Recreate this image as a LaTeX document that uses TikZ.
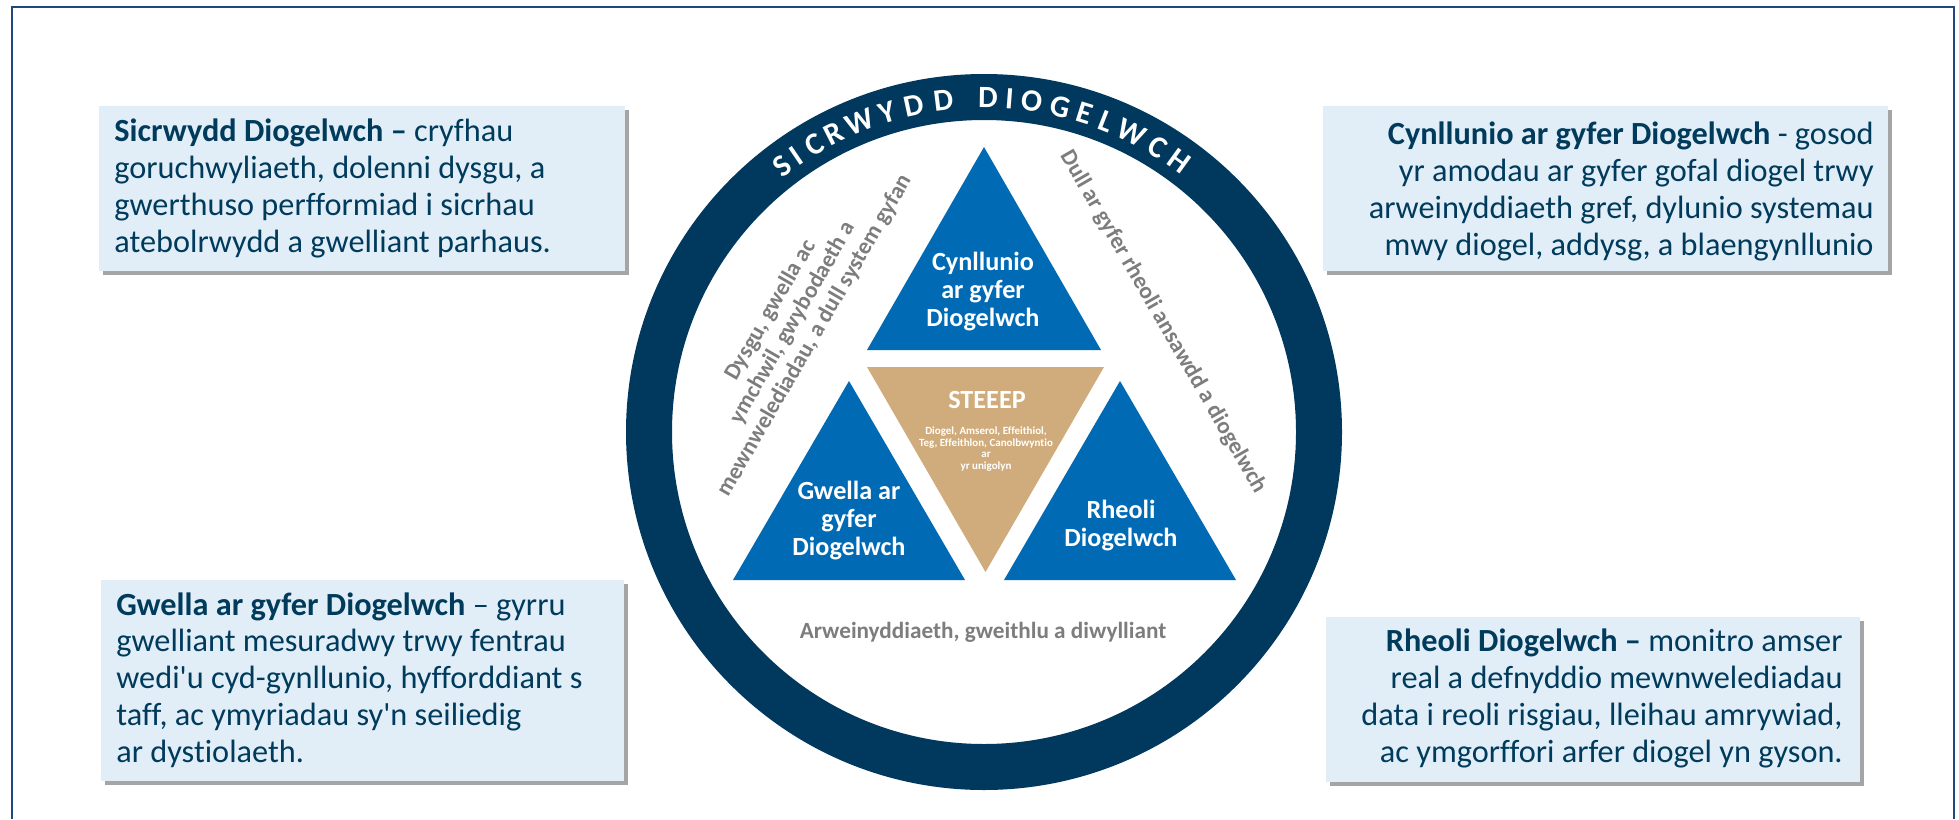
\documentclass[tikz,border=0pt]{standalone}
\usepackage{fontspec}
\setmainfont{Carlito}[Ligatures={CommonOff,TeXOff}]
\usetikzlibrary{calc}
\definecolor{navy}{RGB}{0,56,94}
\definecolor{triblue}{RGB}{0,106,180}
\definecolor{tanfill}{RGB}{208,172,124}
\definecolor{boxfill}{RGB}{225,238,248}
\definecolor{boxtext}{RGB}{0,59,92}
\definecolor{labgray}{RGB}{125,125,125}
\definecolor{framecol}{RGB}{31,73,125}
\definecolor{shadowcol}{RGB}{165,165,165}
\tikzset{
  descbox/.style={fill=boxfill},
  shadowbox/.style={fill=shadowcol},
  desctext/.style={text=boxtext, font=\fontsize{16.15}{18.35}\selectfont, inner sep=0pt},
  tritext/.style={text=white, font=\bfseries\fontsize{13.1}{14}\selectfont, align=center, inner sep=0pt},
  smalltext/.style={text=white, font=\bfseries\fontsize{5.5}{5.85}\selectfont, align=center, inner sep=0pt},
  graytext/.style={text=labgray, font=\bfseries\fontsize{11.6}{12.75}\selectfont, align=center, inner sep=0pt},
  ringletter/.style={text=white, font=\bfseries\fontsize{15.5}{15.5}\selectfont, inner sep=0pt, anchor=center}
}
\begin{document}
\begin{tikzpicture}[x=0.5pt,y=-0.5pt]
\fill[white] (0,0) rectangle (1959,819);
\useasboundingbox (0,0) rectangle (1959,819);
% frame
\draw[framecol, line width=1pt] (12,819) -- (12,7) -- (1954,7) -- (1954,819);
% description boxes
\fill[shadowbox] (103,110) rectangle (629,275);
\fill[descbox] (99,106) rectangle (625,271);
\fill[shadowbox] (1327,110) rectangle (1892,275);
\fill[descbox] (1323,106) rectangle (1888,271);
\fill[shadowbox] (105,584) rectangle (628,785);
\fill[descbox] (101,580) rectangle (624,781);
\fill[shadowbox] (1330,621) rectangle (1864,786);
\fill[descbox] (1326,617) rectangle (1860,782);
\node[desctext, anchor=base west, align=left] (tltext) at (114,252)
  {\textbf{Sicrwydd Diogelwch –} cryfhau\\goruchwyliaeth, dolenni dysgu, a\\gwerthuso perfformiad i sicrhau\\atebolrwydd a gwelliant parhaus.};
\node[desctext, anchor=base east, align=right] (trtext) at (1874,255)
  {\textbf{Cynllunio ar gyfer Diogelwch} - gosod\\yr amodau ar gyfer gofal diogel trwy\\arweinyddiaeth gref, dylunio systemau\\mwy diogel, addysg, a blaengynllunio};
\node[desctext, anchor=base west, align=left] (bltext) at (116,762)
  {\textbf{Gwella ar gyfer Diogelwch} – gyrru\\gwelliant mesuradwy trwy fentrau\\wedi'u cyd-gynllunio, hyfforddiant s\\taff, ac ymyriadau sy'n seiliedig\\ar dystiolaeth.};
\node[desctext, anchor=base east, align=right] (brtext) at (1843,762)
  {\textbf{Rheoli Diogelwch –} monitro amser\\real a defnyddio mewnwelediadau\\data i reoli risgiau, lleihau amrywiad,\\ac ymgorffori arfer diogel yn gyson.};
% ring
\coordinate (ctr) at (984,432);
\draw[navy, line width=23pt] (ctr) circle[radius=335];
\foreach \l/\a [count=\i] in {S/127.1,I/124.2,C/120.5,R/116.8,W/111.9,Y/106.9,D/102.2,D/97.0,D/89.3,I/85.6,O/81.8,G/76.7,E/72.5,L/68.6,W/63.8,C/58.6,H/54.2}
  \node[ringletter, rotate=\a-90] (ring\i) at ($(ctr)+(-\a:334)$) {\l};
% triangles
\fill[triblue] (984,147) -- (1101,350) -- (867,350) -- cycle;
\fill[tanfill] (867,367) -- (1104,367) -- (985.5,572) -- cycle;
\fill[triblue] (849,381) -- (965,580) -- (733,580) -- cycle;
\fill[triblue] (1120,381) -- (1236,580) -- (1004,580) -- cycle;
\node[tritext] (plan) at (983,292) {Cynllunio\\ar gyfer\\Diogelwch};
\node[tritext] (improve) at (849,521) {Gwella ar\\gyfer\\Diogelwch};
\node[tritext] (control) at (1121,526) {Rheoli\\Diogelwch};
\node[tritext] (steeep) at (987,400) {STEEEP};
\node[smalltext] (steeepdef) at (986,449) {Diogel, Amserol, Effeithiol,\\Teg, Effeithlon, Canolbwyntio\\ar\\yr unigolyn};
% grey labels
\node[graytext, rotate=60] (learn) at (793,323) {Dysgu, gwella ac\\ymchwil, gwybodaeth a\\mewnwelediadau, a dull system gyfan};
\node[graytext, rotate=-60] (quality) at (1163,322) {Dull ar gyfer rheoli ansawdd a diogelwch};
\node[graytext] (lead) at (983,632) {Arweinyddiaeth, gweithlu a diwylliant};
\end{tikzpicture}
\end{document}
